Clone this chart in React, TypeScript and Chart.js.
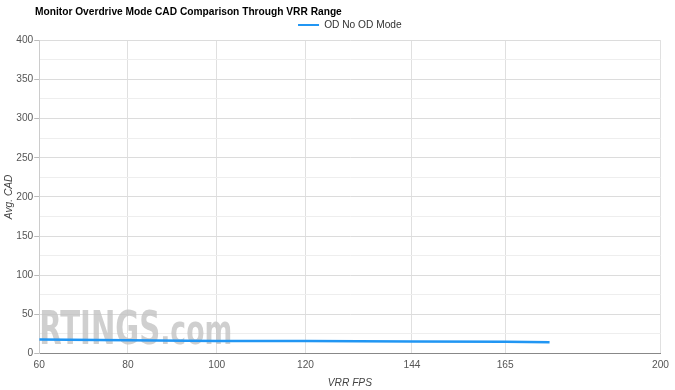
import React, { useEffect, useRef } from "react";
import { Chart, registerables } from "chart.js";

Chart.register(...registerables);

const fpsValues = [60, 80, 100, 120, 144, 165, 175];
const cadValues = [18, 17, 16, 16, 15.5, 15, 14.5];
const xTickValues = [60, 80, 100, 120, 144, 165, 200];
const seriesLabel = "OD No OD Mode";
const chartTitle = "Monitor Overdrive Mode CAD Comparison Through VRR Range";

const FONT = "'Liberation Sans', Arial, sans-serif";
const FS = 10.2;

const titlePlugin = {
  id: "customTitle",
  afterDraw(chart: any) {
    const { ctx } = chart;
    ctx.save();
    ctx.fillStyle = "#000";
    ctx.font = `bold ${FS}px ${FONT}`;
    ctx.textBaseline = "middle";
    ctx.textAlign = "left";
    ctx.fillText(chartTitle, 35, 12);
    ctx.restore();
  },
};

const WM_FONT = "'DejaVu Sans Condensed', 'Liberation Sans Narrow', sans-serif";

const watermark = {
  id: "watermark",
  beforeDatasetsDraw(chart: any) {
    const { ctx, chartArea } = chart;
    ctx.save();
    ctx.fillStyle = "rgba(195,195,195,0.8)";
    ctx.textBaseline = "alphabetic";
    const x0 = chartArea.left;
    const yb = chartArea.bottom - 10;
    ctx.font = `bold 47px ${WM_FONT}`;
    const w1 = ctx.measureText("RTINGS").width;
    ctx.save();
    ctx.translate(x0, yb);
    ctx.scale(121 / w1, 1);
    ctx.fillText("RTINGS", 0, 0);
    ctx.restore();
    ctx.font = `bold 40px ${WM_FONT}`;
    const w2 = ctx.measureText(".com").width;
    ctx.save();
    ctx.translate(x0 + 121, yb);
    ctx.scale(72 / w2, 1);
    ctx.fillText(".com", 0, 0);
    ctx.restore();
    ctx.restore();
  },
};

export default function App() {
  const ref = useRef<HTMLCanvasElement>(null);
  useEffect(() => {
    if (!ref.current) return;
    const chart = new Chart(ref.current, {
      type: "line",
      data: {
        datasets: [
          {
            label: seriesLabel,
            data: fpsValues.map((x, i) => ({ x, y: cadValues[i] })),
            borderColor: "#2196f3",
            backgroundColor: "#2196f3",
            borderWidth: 2.5,
            pointRadius: 0,
            tension: 0,
          },
        ],
      },
      options: {
        animation: false,
        responsive: false,
        maintainAspectRatio: false,
        layout: { padding: { left: 3, right: 14, top: 20, bottom: -2 } },
        plugins: {
          title: { display: false },
          legend: {
            display: true,
            fullSize: false,
            labels: {
              boxWidth: 21,
              boxHeight: 2,
              color: "#333",
              font: { family: FONT, size: FS },
              padding: 0,
              generateLabels: (chart: any) =>
                Chart.defaults.plugins.legend.labels
                  .generateLabels(chart)
                  .map((l: any) => ({ ...l, lineWidth: 0 })),
            },
          },
          tooltip: { enabled: false },
        },
        scales: {
          x: {
            type: "linear",
            min: 60,
            max: 200,
            afterBuildTicks: (axis: any) => {
              axis.ticks = xTickValues.map((v) => ({ value: v }));
            },
            ticks: {
              color: "#555",
              font: { family: FONT, size: FS },
              autoSkip: false,
              maxRotation: 0,
              padding: 6,
            },
            grid: {
              color: "#e0e0e0",
              tickLength: 0,
            },
            border: { color: "#888", width: 1 },
            title: {
              display: true,
              text: "VRR FPS",
              color: "#444",
              font: { family: FONT, size: FS, style: "italic", lineHeight: 1 },
              padding: { top: 0, bottom: 4 },
            },
          },
          y: {
            min: 0,
            max: 400,
            ticks: {
              stepSize: 25,
              color: "#555",
              font: { family: FONT, size: FS },
              callback: (v: any) => (Number(v) % 50 === 0 ? String(v) : ""),
              padding: 1,
            },
            grid: {
              color: (c: any) => (c.tick && c.tick.value % 50 === 0 ? "#dcdcdc" : "#eeeeee"),
              tickColor: (c: any) => (c.tick && c.tick.value % 50 === 0 ? "#bbb" : "transparent"),
              tickLength: 5,
            },
            border: { color: "#ccc", width: 1 },
            title: {
              display: true,
              text: "Avg. CAD",
              color: "#444",
              font: { family: FONT, size: FS, style: "italic" },
              padding: { top: 0, bottom: 0 },
            },
          },
        },
      },
      plugins: [watermark, titlePlugin],
    } as any);
    return () => chart.destroy();
  }, []);
  return (
    <div style={{ position: "fixed", left: 0, top: 0, width: 675, height: 390, background: "#fff" }}>
      <canvas ref={ref} width={675} height={390} style={{ width: 675, height: 390 }} />
    </div>
  );
}
